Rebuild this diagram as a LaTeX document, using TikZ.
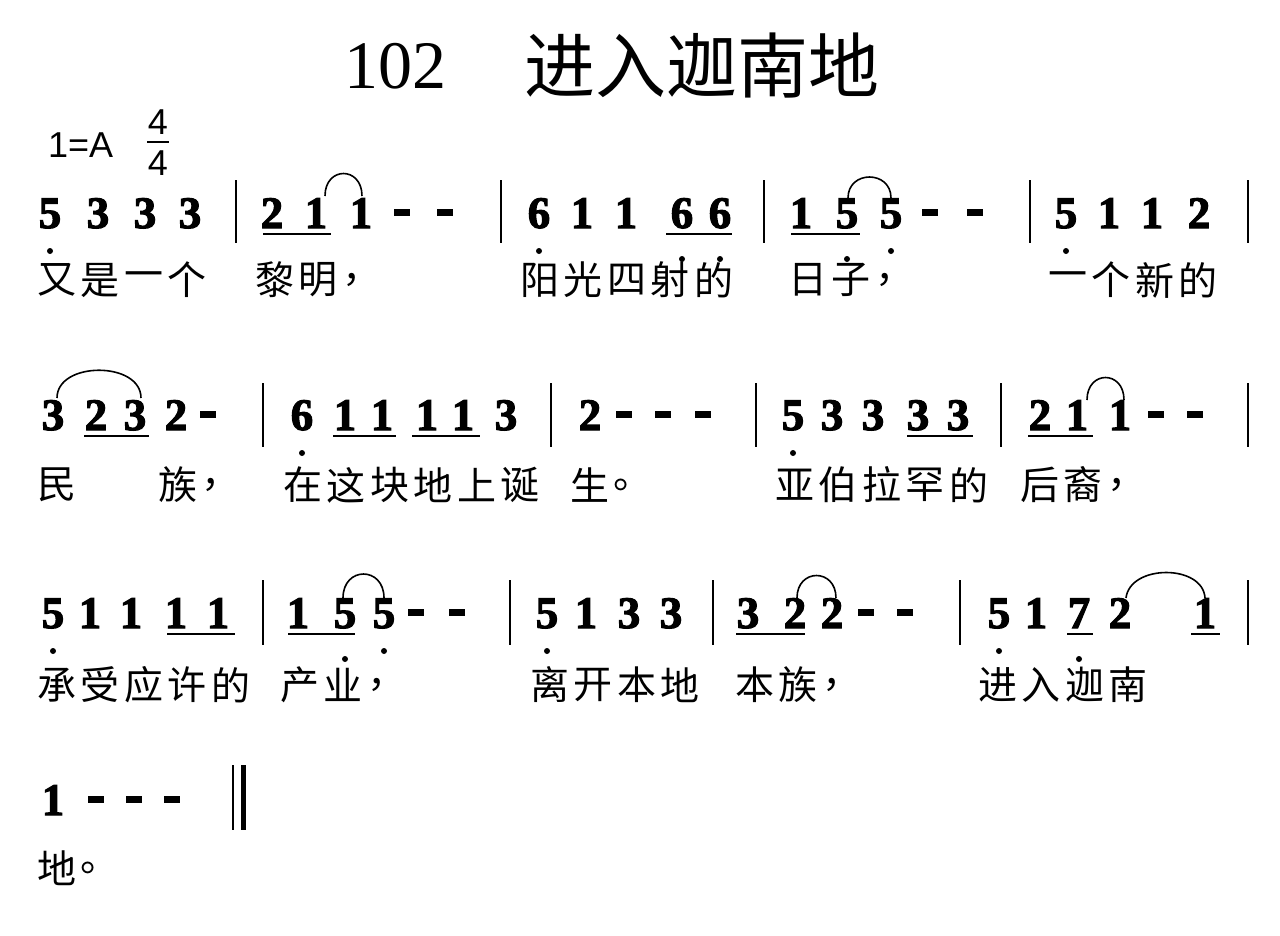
\documentclass[tikz,border=0pt]{standalone}
\usepackage{fontspec}
\setmainfont{Liberation Serif}
\newfontfamily\cjk{Noto Sans CJK SC}
\newfontfamily\numfont[FakeBold=2.5]{LiberationSerif-Bold.ttf}
\newfontfamily\titlefont{Liberation Serif}
\newfontfamily\keyfont{Liberation Sans}

% lyric characters, one per cell
\newcommand{\lyr}[3]{%
  \foreach \c [count=\i] in {#3}
    \node[lyric] at ({#1+43.5*(\i-1)},#2) {\c};}
% row of note digits
\newcommand{\notes}[2]{%
  \foreach \xx/\d in {#2}
    \node[note] at (\xx,#1+15) {\d};}

\begin{document}
\begin{tikzpicture}[
    x=1pt, y=-1pt,
    % Define styles
    note/.style={anchor=base, inner sep=0pt, font=\numfont\fontsize{45}{45}\selectfont},
    lyric/.style={anchor=west, inner sep=0pt, font=\cjk\fontsize{39}{39}\selectfont},
    beam/.style={line width=2.2pt},
    slur/.style={line width=1.6pt},
    barline/.style={line width=1.3pt},
    lowdot/.style={circle, fill, inner sep=0pt, minimum size=6pt}
]
\useasboundingbox[fill=white] (0,0) rectangle (1280,935);

% Title and key
\node[inner sep=0pt, font=\titlefont\fontsize{68}{68}\selectfont] (num) at (395,66) {102};
\node[inner sep=0pt, anchor=west, font=\cjk\fontsize{71}{71}\selectfont] (title) at (524,66) {进入迦南地};
\node[inner sep=0pt, anchor=west, font=\keyfont\fontsize{36}{36}\selectfont] (key) at (48,145) {1=A};
\node[inner sep=0pt, font=\keyfont\fontsize{36}{36}\selectfont] (tup) at (158,122) {4};
\node[inner sep=0pt, font=\keyfont\fontsize{36}{36}\selectfont] (tdn) at (158,163) {4};
\draw[line width=1.4pt] (147,142) -- (169,142);

% Row 1
\notes{213}{50/5,98/3,145/3,190/3,272/2,316/1,361/1,539/6,582/1,626/1,682/6,720/6,801/1,847/5,891/5,1066/5,1109/1,1152/1,1199/2}
\foreach \xx in {236,501,764,1030,1248} \draw[barline] (\xx,180) -- (\xx,243);
\foreach \xx in {402,445,930,975} \fill (\xx-8,209) rectangle (\xx+8,216);
\draw[beam] (263,234) -- (331,234);
\draw[beam] (666,234) -- (732,234);
\draw[beam] (791,234) -- (860,234);
\foreach \xx in {50,539,891,1066} \node[lowdot] at (\xx,251) {};
\foreach \xx in {682,720,847} \node[lowdot] at (\xx,259) {};
\draw[slur] (325,196) .. controls (325,166) and (362,166) .. (362,196);
\draw[slur] (848,198) .. controls (848,170) and (891,170) .. (891,198);
\lyr{37}{280}{又,是,一,个}
\lyr{255}{280}{黎,明,，}
\lyr{520}{280}{阳,光,四,射,的}
\lyr{788}{280}{日,子,，}
\lyr{1048}{280}{一,个,新,的}

% Row 2
\notes{415}{53/3,96/2,135/3,176/2,302/6,345/1,382/1,427/1,463/1,506/3,590/2,793/5,832/3,873/3,918/3,958/3,1040/2,1077/1,1120/1}
\foreach \xx in {263,551,756,1001,1248} \draw[barline] (\xx,383) -- (\xx,447);
\foreach \xx in {208,624,663,703,1156,1195} \fill (\xx-8,411) rectangle (\xx+8,418);
\draw[beam] (84,436) -- (149,436);
\draw[beam] (333,436) -- (396,436);
\draw[beam] (412,436) -- (480,436);
\draw[beam] (907,436) -- (973,436);
\draw[beam] (1028,436) -- (1093,436);
\foreach \xx in {302,793} \node[lowdot] at (\xx,453) {};
\draw[slur] (57,398) .. controls (57,361) and (141,361) .. (141,398);
\draw[slur] (1087,400) .. controls (1087,370) and (1124,370) .. (1124,400);
\lyr{37}{485}{民}
\lyr{158}{485}{族,，}
\lyr{283}{485}{在,这,块,地,上,诞}
\lyr{570}{485}{生,。}
\lyr{775}{485}{亚,伯,拉,罕,的}
\lyr{1020}{485}{后,裔,，}

% Row 3
\notes{613}{53/5,90/1,131/1,176/1,218/1,298/1,345/5,384/5,547/5,586/1,629/3,671/3,748/3,795/2,832/2,999/5,1036/1,1079/7,1120/2,1205/1}
\foreach \xx in {263,510,713,960,1248} \draw[barline] (\xx,580) -- (\xx,645);
\foreach \xx in {416,457,866,905} \fill (\xx-8,609) rectangle (\xx+8,616);
\draw[beam] (167,634) -- (235,634);
\draw[beam] (288,634) -- (355,634);
\draw[beam] (736,634) -- (805,634);
\draw[beam] (1067,634) -- (1093,634);
\draw[beam] (1191,634) -- (1220,634);
\foreach \xx in {53,384,547,999} \node[lowdot] at (\xx,651) {};
\foreach \xx in {345,1079} \node[lowdot] at (\xx,659) {};
\draw[slur] (343,598) .. controls (343,566) and (384,566) .. (384,598);
\draw[slur] (797,598) .. controls (797,568) and (836,568) .. (836,598);
\draw[slur] (1126,598) .. controls (1130,564) and (1203,564) .. (1205,598);
\lyr{37}{685}{承,受,应,许,的}
\lyr{280}{685}{产,业,，}
\lyr{530}{685}{离,开,本,地}
\lyr{735}{685}{本,族,，}
\lyr{978}{685}{进,入,迦,南}

% Row 4
\notes{800}{53/1}
\foreach \xx in {96,134,172} \fill (\xx-8,796) rectangle (\xx+8,803);
\draw[line width=1.3pt] (233,765) -- (233,830);
\draw[line width=5pt] (243,765) -- (243,830);
\lyr{37}{868}{地,。}
\end{tikzpicture}
\end{document}
